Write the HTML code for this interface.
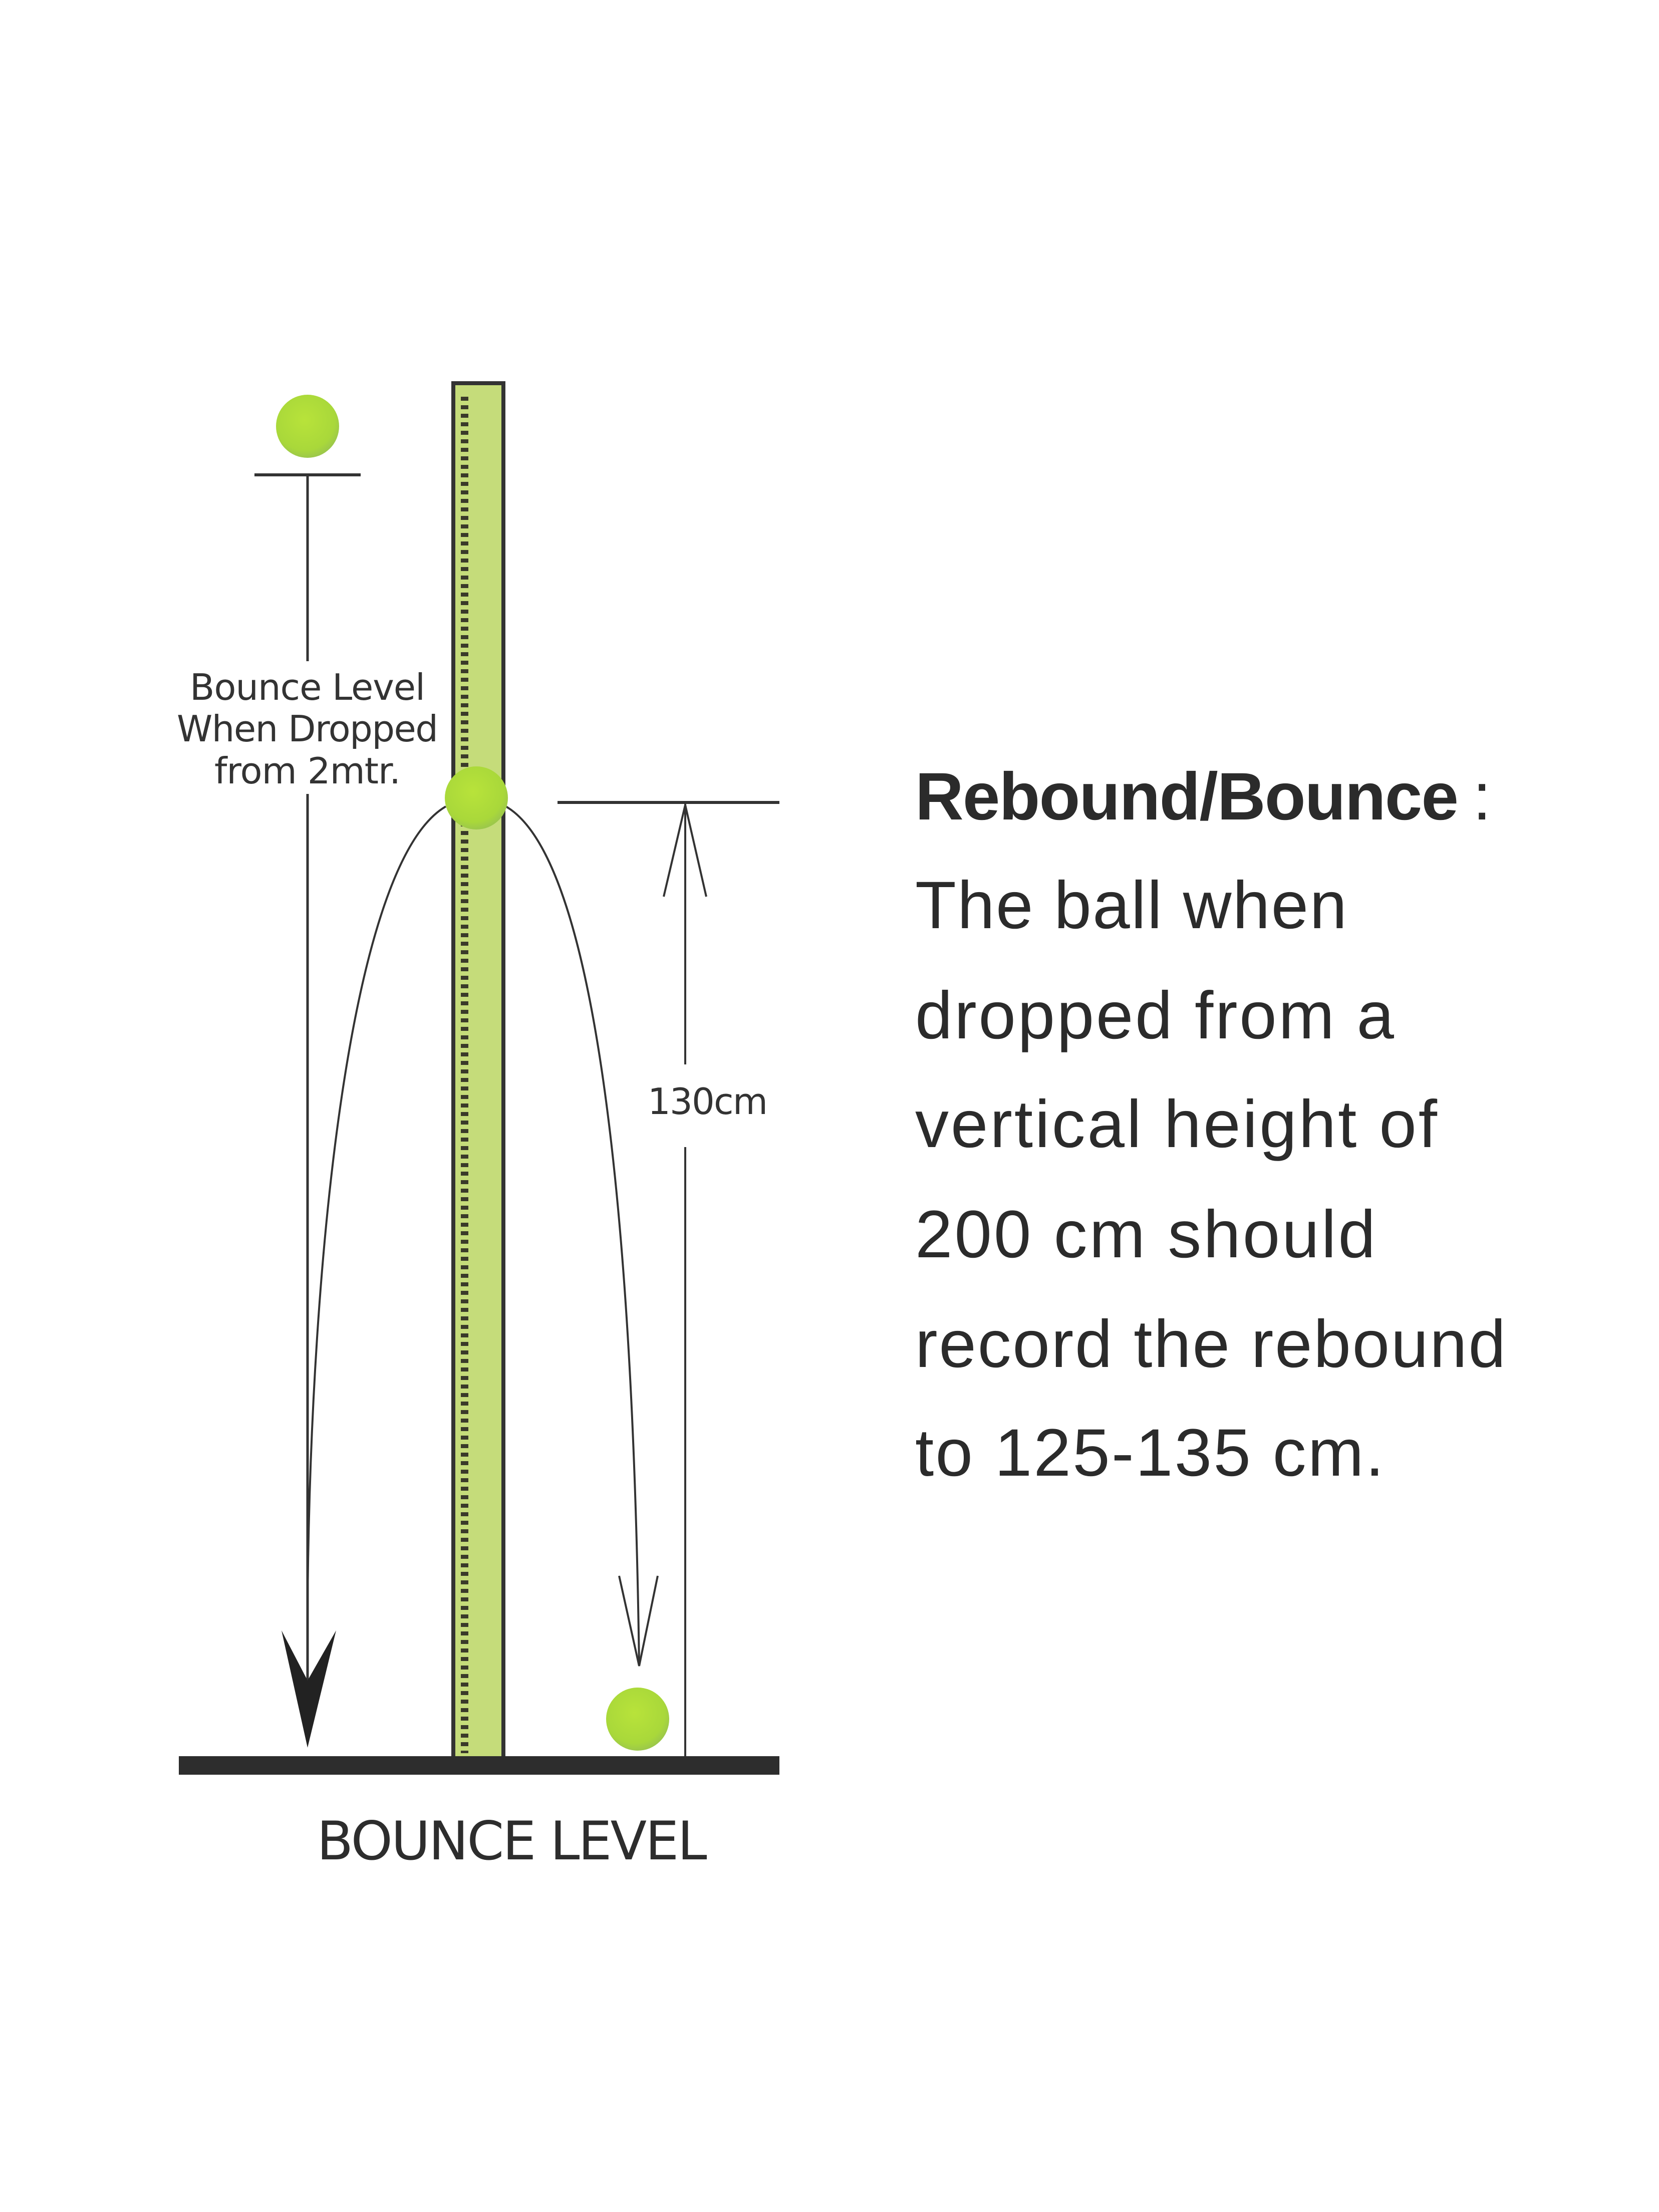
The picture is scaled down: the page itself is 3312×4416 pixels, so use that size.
<!DOCTYPE html>
<html><head><meta charset="utf-8"><style>html,body{margin:0;padding:0;background:#fff}svg{display:block}</style></head>
<body>
<svg width="3312" height="4416" viewBox="0 0 3312 4416" xmlns="http://www.w3.org/2000/svg">
<defs>
<radialGradient id="b" cx="0.45" cy="0.4" r="0.6">
<stop offset="0" stop-color="#b8e33a"/><stop offset="0.8" stop-color="#a9d83a"/><stop offset="1" stop-color="#9cc84a"/>
</radialGradient>
<pattern id="t" x="0" y="775" width="40" height="17" patternUnits="userSpaceOnUse">
<rect x="0" y="0" width="26" height="8" fill="#3a3a2a"/>
</pattern>
</defs>
<rect width="3312" height="4416" fill="#fff"/>
<rect x="905" y="765" width="100" height="2745" fill="#c5dc7a" stroke="#333" stroke-width="8"/>
<rect x="909" y="790" width="26" height="2710" fill="url(#t)"/>
<rect x="357" y="3506" width="1199" height="37" fill="#2d2d2d"/>
<circle cx="614" cy="851" r="63" fill="url(#b)"/>
<line x1="508" y1="948" x2="720" y2="948" stroke="#333" stroke-width="6"/>
<line x1="614" y1="948" x2="614" y2="1320" stroke="#333" stroke-width="5"/>
<line x1="614" y1="1585" x2="614" y2="3360" stroke="#333" stroke-width="5"/>
<polygon points="562,3255 614,3355 671,3255 614,3489" fill="#222"/>
<text x="614" y="1397" font-family="DejaVu Sans, sans-serif" font-size="72" fill="#333" text-anchor="middle" textLength="470">Bounce Level</text>
<text x="614" y="1480" font-family="DejaVu Sans, sans-serif" font-size="72" fill="#333" text-anchor="middle" textLength="522">When Dropped</text>
<text x="614" y="1564" font-family="DejaVu Sans, sans-serif" font-size="72" fill="#333" text-anchor="middle" textLength="372">from 2mtr.</text>
<path d="M890,1610 C700,1720 620,2500 614,3200" fill="none" stroke="#333" stroke-width="4"/>
<path d="M1010,1610 C1200,1720 1265,2500 1276,3326" fill="none" stroke="#333" stroke-width="4"/>
<polyline points="1236,3146 1276,3326 1313,3146" fill="none" stroke="#333" stroke-width="4"/>
<circle cx="951" cy="1593" r="63" fill="url(#b)"/>
<circle cx="1273" cy="3432" r="63" fill="url(#b)"/>
<line x1="1113" y1="1602" x2="1556" y2="1602" stroke="#333" stroke-width="6"/>
<line x1="1368" y1="1602" x2="1368" y2="2125" stroke="#333" stroke-width="4"/>
<line x1="1368" y1="2290" x2="1368" y2="3506" stroke="#333" stroke-width="4"/>
<polyline points="1325,1790 1368,1607 1410,1790" fill="none" stroke="#333" stroke-width="4"/>
<text x="1413" y="2224" font-family="DejaVu Sans, sans-serif" font-size="72" fill="#333" text-anchor="middle" textLength="240">130cm</text>
<text x="1022" y="3712" font-family="DejaVu Sans, sans-serif" font-size="106" fill="#2d2d2d" text-anchor="middle" textLength="779">BOUNCE LEVEL</text>
<g font-family="Liberation Sans, sans-serif" font-size="134" fill="#2b2b2b">
<text x="1827" y="1636" font-weight="bold" textLength="1085">Rebound/Bounce</text>
<text x="2940" y="1636">:</text>
<text x="1827" y="1853" textLength="862">The ball when</text>
<text x="1827" y="2073" textLength="956">dropped from a</text>
<text x="1827" y="2290" textLength="1042">vertical height of</text>
<text x="1827" y="2510" textLength="919">200 cm should</text>
<text x="1827" y="2729" textLength="1179">record the rebound</text>
<text x="1827" y="2946" textLength="936">to 125-135 cm.</text>
</g>
</svg>
</body></html>
